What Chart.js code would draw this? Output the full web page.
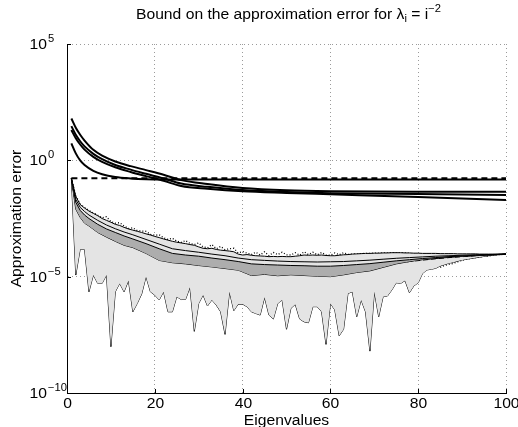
<!DOCTYPE html>
<html>
<head>
<meta charset="utf-8">
<script src="https://cdn.jsdelivr.net/npm/chart.js@4.4.0/dist/chart.umd.min.js"></script>
<style>
  html, body { margin: 0; padding: 0; background: #fff; }
  #wrap { width: 518px; height: 427px; }
</style>
</head>
<body>
<div id="wrap"><canvas id="errChart"></canvas></div>
<script>
// --- Data: exponents (log10) of the approximation error ---
const eigIdx = Array.from({ length: 100 }, (_, k) => k + 1);
const xTicks = [0, 20, 40, 60, 80, 100];
const yTickExp = [5, 0, -5, -10];

// lower light band: max / min over the runs (one value per eigenvalue)
const maxExp = [
  -0.77, -1.55, -1.90, -2.05, -2.18, -2.28, -2.38, -2.50, -2.58, -2.66,
  -2.75, -2.80, -2.88, -2.95, -3.00, -3.05, -3.10, -3.16, -3.21, -3.27,
  -3.32, -3.38, -3.43, -3.48, -3.52, -3.55, -3.58, -3.62, -3.65, -3.72,
  -3.78, -3.80, -3.78, -3.83, -3.86, -3.88, -3.90, -3.93, -4.03, -4.07,
  -4.05, -4.08, -4.10, -4.11, -4.12, -4.14, -4.13, -4.14, -4.13, -4.14,
  -4.14, -4.12, -4.10, -4.07, -4.08, -4.07, -4.08, -4.07, -4.09, -4.10,
  -4.10, -4.08, -4.06, -4.05, -4.03, -4.02, -4.01, -4.00, -4.00, -3.99,
  -3.99, -3.98, -3.98, -3.97, -3.97, -3.97, -3.98, -3.98, -3.99, -3.99,
  -4.00, -4.00, -4.00, -4.00, -4.01, -4.01, -4.01, -4.01, -4.02, -4.02,
  -4.02, -4.02, -4.02, -4.03, -4.03, -4.03, -4.03, -4.03, -4.03, -4.03
];
const minExp = [
  -0.77, -4.93, -3.82, -3.82, -5.65, -4.93, -5.29, -5.29, -4.93, -8.01,
  -5.65, -5.29, -5.65, -5.17, -6.51, -6.15, -5.75, -5.00, -5.65, -5.79,
  -6.00, -5.65, -6.51, -6.51, -5.86, -5.98, -5.98, -5.46, -7.35, -6.15,
  -5.79, -6.26, -6.00, -6.22, -6.51, -7.48, -5.65, -6.46, -6.18, -6.18,
  -6.29, -6.51, -6.58, -6.65, -5.89, -6.65, -6.82, -6.15, -6.00, -7.26,
  -6.36, -6.19, -6.82, -6.94, -6.98, -6.29, -6.29, -6.51, -7.91, -6.15,
  -6.43, -7.54, -7.26, -5.72, -5.65, -6.72, -6.00, -6.51, -8.20, -5.65,
  -6.72, -5.86, -5.83, -5.57, -5.26, -5.29, -5.17, -5.69, -5.40, -5.26,
  -4.86, -4.71, -4.68, -4.64, -4.54, -4.48, -4.42, -4.38, -4.33, -4.28,
  -4.25, -4.22, -4.19, -4.16, -4.13, -4.10, -4.08, -4.06, -4.05, -4.03
];
// dotted run
const dotExp = [
  -0.77, -1.52, -1.88, -2.03, -2.15, -2.26, -2.36, -2.47, -2.42, -2.64,
  -2.70, -2.68, -2.82, -2.93, -2.90, -3.02, -3.04, -3.05, -3.18, -3.22,
  -3.20, -3.33, -3.40, -3.35, -3.47, -3.53, -3.45, -3.57, -3.62, -3.55,
  -3.72, -3.76, -3.62, -3.80, -3.70, -3.84, -3.80, -3.78, -3.98, -3.92,
  -3.99, -4.05, -3.95, -4.07, -3.93, -4.10, -3.96, -4.05, -3.95, -4.06,
  -4.07, -3.97, -4.08, -3.93, -4.05, -3.95, -4.06, -3.96, -4.07, -4.08,
  -3.98, -4.06, -3.97, -4.04, -4.03, -4.02, -4.01, -4.00, -4.00, -3.99,
  -3.99, -3.98, -3.98, -3.97, -3.97, -3.98, -3.98, -4.00, -4.03, -4.06,
  -4.12, -4.24, -4.38, -4.50, -4.60, -4.52, -4.47, -4.43, -4.36, -4.30,
  -4.25, -4.21, -4.18, -4.15, -4.13, -4.11, -4.08, -4.06, -4.05, -4.03
];

// inner lines and dark band (sampled)
const bandX = [
  1, 2, 3, 4, 5,  7, 9, 11, 13, 15,  18, 21, 24, 27, 30,  33, 36, 39, 42, 45,
  48, 51, 54, 57, 60,  63, 66, 69, 72, 75,  78, 81, 84, 87, 90,  93, 96, 100
];
const upperExp = [
  -0.77, -1.68, -2.02, -2.20, -2.35,  -2.58, -2.78, -2.94, -3.08, -3.20,
  -3.40, -3.60, -3.80, -3.88, -3.95,  -4.03, -4.10, -4.20, -4.27, -4.30,
  -4.33, -4.35, -4.36, -4.37, -4.36,  -4.35, -4.32, -4.29, -4.25, -4.21,
  -4.18, -4.15, -4.12, -4.10, -4.08,  -4.06, -4.05, -4.03
];
const q75Exp = [
  -0.77, -1.80, -2.15, -2.35, -2.50,  -2.75, -2.95, -3.10, -3.25, -3.38,
  -3.58, -3.80, -4.00, -4.07, -4.12,  -4.20, -4.27, -4.35, -4.45, -4.48,
  -4.50, -4.52, -4.53, -4.55, -4.55,  -4.52, -4.48, -4.44, -4.38, -4.32,
  -4.27, -4.22, -4.18, -4.14, -4.11,  -4.08, -4.06, -4.03
];
const medExp = [
  -0.77, -1.90, -2.25, -2.45, -2.60,  -2.85, -3.05, -3.20, -3.36, -3.48,
  -3.68, -3.90, -4.10, -4.16, -4.22,  -4.30, -4.38, -4.45, -4.58, -4.60,
  -4.63, -4.66, -4.67, -4.70, -4.70,  -4.66, -4.60, -4.55, -4.48, -4.40,
  -4.33, -4.27, -4.22, -4.17, -4.13,  -4.10, -4.07, -4.03
];
const meanExp = [
  -0.77, -1.95, -2.30, -2.50, -2.65,  -2.90, -3.10, -3.27, -3.42, -3.55,
  -3.75, -3.95, -4.15, -4.22, -4.28,  -4.36, -4.44, -4.52, -4.62, -4.65,
  -4.68, -4.70, -4.72, -4.74, -4.74,  -4.70, -4.64, -4.58, -4.50, -4.42,
  -4.35, -4.29, -4.23, -4.18, -4.14,  -4.10, -4.07, -4.03
];
const q25Exp = [
  -0.77, -2.10, -2.45, -2.70, -2.82,  -3.10, -3.30, -3.48, -3.65, -3.75,
  -4.00, -4.30, -4.40, -4.45, -4.52,  -4.58, -4.65, -4.72, -4.95, -4.90,
  -4.96, -4.92, -4.95, -4.98, -5.00,  -4.92, -4.82, -4.75, -4.60, -4.45,
  -4.35, -4.26, -4.20, -4.15, -4.12,  -4.09, -4.06, -4.03
];

// upper bound curves
const curveX = [1, 2, 3, 4, 6, 8, 11, 14.5, 18, 22, 26, 32, 40, 50, 60, 80, 100];
const boundA = [1.80, 1.40, 1.10, 0.85, 0.45, 0.20, -0.05, -0.25, -0.42, -0.62, -0.85, -1.02, -1.19, -1.29, -1.33, -1.35, -1.35];
const boundB = [1.47, 1.10, 0.82, 0.60, 0.28, 0.05, -0.20, -0.40, -0.58, -0.78, -1.00, -1.14, -1.28, -1.36, -1.41, -1.45, -1.49];
const boundC = [1.30, 0.95, 0.68, 0.46, 0.15, -0.07, -0.30, -0.50, -0.68, -0.88, -1.10, -1.22, -1.33, -1.40, -1.46, -1.58, -1.71];
const boundD = [0.73, 0.30, 0.00, -0.20, -0.45, -0.60, -0.72, -0.78, -0.81, -0.82, -0.82, -0.82, -0.82, -0.82, -0.82, -0.82, -0.82];
const flatX = [1, 100];
const flatExp = [-0.77, -0.77];

const LIGHT = '#e4e4e4';
const DARK = '#adadad';
const FONT = '"Liberation Sans", Arial, sans-serif';
const SX = 1.12; // glyphs in the reference are a bit wide

const pts = (xs, exps) => xs.map((x, k) => ({ x: x, y: Math.pow(10, exps[k]) }));

const line = (data, extra) => Object.assign({
    data: data,
    borderColor: '#000',
    borderWidth: 1,
    pointRadius: 0,
    fill: false,
    tension: 0
}, extra);

// smooth thick bound curves
const smooth = { borderWidth: 2, cubicInterpolationMode: 'monotone' };

// --- Text drawn on top (sub/superscripts) ---
function runText(ctx, runs, x, y, align) {
    let total = 0;
    runs.forEach(r => {
        ctx.font = r.size + 'px ' + FONT;
        r.w = ctx.measureText(r.t).width * SX;
        total += r.w;
    });
    let cx = align === 'center' ? x - total / 2 : (align === 'right' ? x - total : x);
    runs.forEach(r => {
        ctx.save();
        ctx.font = r.size + 'px ' + FONT;
        ctx.textAlign = 'left';
        ctx.textBaseline = 'middle';
        ctx.translate(cx, y + (r.dy || 0));
        ctx.scale(SX, 1);
        ctx.fillText(r.t, 0, 0);
        ctx.restore();
        cx += r.w;
    });
}

const labelsPlugin = {
    id: 'matlabLabels',
    afterDraw(chart) {
        const ctx = chart.ctx;
        const xs = chart.scales.x, ys = chart.scales.y;
        const area = chart.chartArea;
        ctx.save();
        ctx.fillStyle = '#000';
        ctx.strokeStyle = '#000';
        ctx.lineWidth = 1;

        // inward tick marks + tick labels
        xTicks.forEach(v => {
            const px = Math.round(xs.getPixelForValue(v)) + 0.5;
            ctx.beginPath();
            ctx.moveTo(px, area.bottom);
            ctx.lineTo(px, area.bottom - 4);
            ctx.stroke();
            runText(ctx, [{ t: String(v), size: 14 }], px, area.bottom + 11, 'center');
        });
        yTickExp.forEach(e => {
            const py = Math.round(ys.getPixelForValue(Math.pow(10, e))) + 0.5;
            ctx.beginPath();
            ctx.moveTo(area.left, py);
            ctx.lineTo(area.left + 4, py);
            ctx.stroke();
            runText(ctx, [{ t: '10', size: 14 }], 47, py + 1, 'right');
            runText(ctx, [{ t: String(e).replace('-', '\u2212'), size: 10, dy: -6 }], 48, py + 1, 'left');
        });

        // title
        runText(ctx, [
            { t: 'Bound on the approximation error for \u03bb', size: 14 },
            { t: 'i', size: 10, dy: 4 },
            { t: ' = i', size: 14 },
            { t: '\u22122', size: 10, dy: -6 }
        ], (area.left + area.right) / 2 + 2, 15, 'center');

        // axis titles
        runText(ctx, [{ t: 'Eigenvalues', size: 14 }], (area.left + area.right) / 2, 421, 'center');
        ctx.save();
        ctx.translate(17, (area.top + area.bottom) / 2);
        ctx.rotate(-Math.PI / 2);
        runText(ctx, [{ t: 'Approximation error', size: 14 }], 0, 0, 'center');
        ctx.restore();
        ctx.restore();
    }
};

new Chart(document.getElementById('errChart'), {
    type: 'line',
    data: {
        datasets: [
            line(pts(bandX, q75Exp), { fill: { target: 2 }, backgroundColor: DARK }),
            line(pts(bandX, medExp)),
            line(pts(bandX, q25Exp)),
            line(pts(bandX, meanExp), { borderDash: [5, 3] }),
            line(pts(bandX, upperExp)),
            line(pts(eigIdx, maxExp), { fill: { target: 6 }, backgroundColor: LIGHT }),
            line(pts(eigIdx, minExp)),
            line(pts(eigIdx, dotExp), { borderDash: [1, 2], borderWidth: 1.3 }),
            line(pts(curveX, boundA), smooth),
            line(pts(curveX, boundB), smooth),
            line(pts(curveX, boundC), smooth),
            line(pts(curveX, boundD), smooth),
            line(pts(flatX, flatExp), { borderWidth: 2, borderDash: [6, 4] })
        ]
    },
    options: {
        responsive: true,
        maintainAspectRatio: false,
        animation: false,
        layout: { padding: { left: 67, right: 12, top: 44, bottom: 34 } },
        scales: {
            x: {
                type: 'linear',
                min: 0,
                max: 100,
                ticks: { display: false, stepSize: 20 },
                grid: { color: '#9a9a9a', drawTicks: false },
                border: { display: true, color: '#000', width: 1, dash: [1, 3] }
            },
            y: {
                type: 'logarithmic',
                min: 1e-10,
                max: 1e5,
                afterBuildTicks: s => { s.ticks = yTickExp.map(e => ({ value: Math.pow(10, e) })); },
                ticks: { display: false },
                grid: { color: '#9a9a9a', drawTicks: false },
                border: { display: true, color: '#000', width: 1, dash: [1, 3] }
            }
        },
        plugins: {
            legend: { display: false },
            tooltip: { enabled: false },
            title: { display: false }
        }
    },
    plugins: [labelsPlugin]
});
</script>
</body>
</html>
